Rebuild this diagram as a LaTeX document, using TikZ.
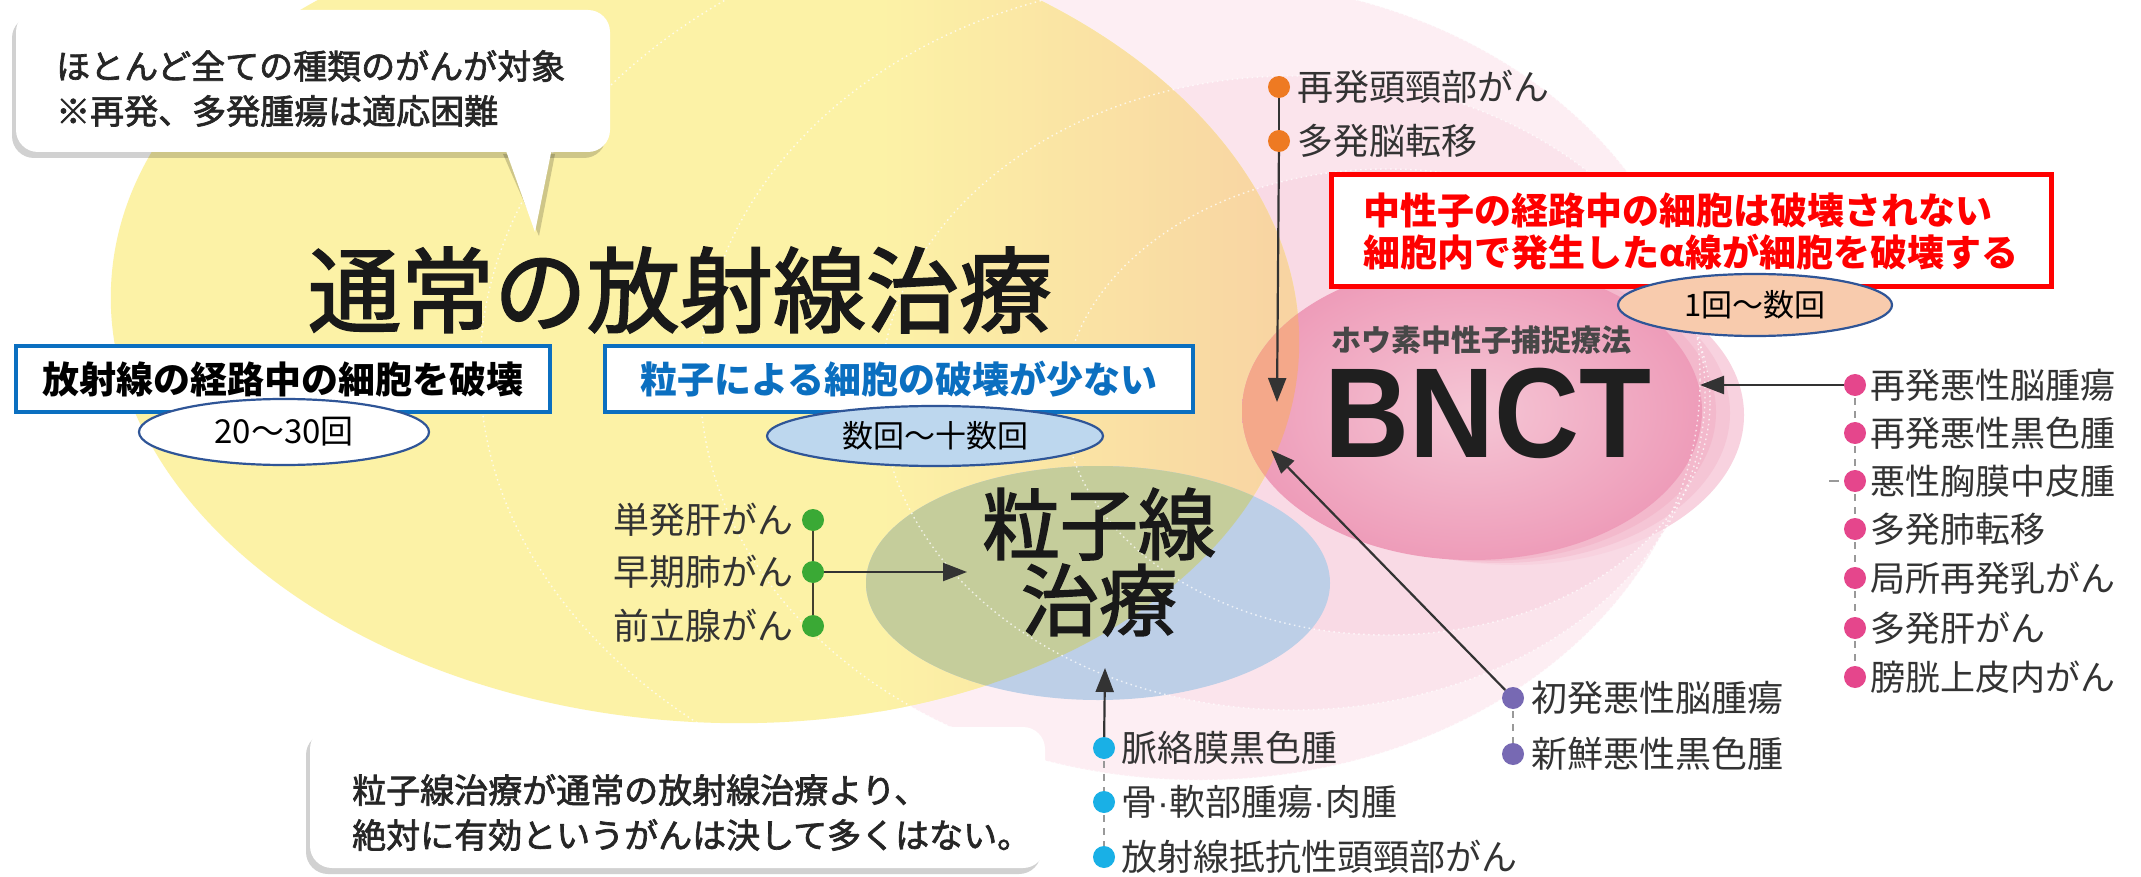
\documentclass[tikz,border=0pt]{standalone}
\usepackage{fontspec}
\usepackage{graphicx}
\setmainfont{Noto Sans CJK JP}
\newfontfamily\jpsemi{Noto Sans CJK JP}[FakeBold=2]
\newfontfamily\bnctfont{Liberation Sans}
\usetikzlibrary{arrows.meta,shapes.geometric}
\definecolor{ylw}{HTML}{FCF2A6}
\definecolor{peach}{HTML}{F8D2A2}
\definecolor{olivec}{HTML}{C5CD9B}
\definecolor{pblue}{HTML}{BDCFE7}
\definecolor{bncto}{HTML}{EE9CB9}
\definecolor{bncti}{HTML}{F5C6D5}
\definecolor{ovl}{HTML}{F4A88A}
\definecolor{ringa}{HTML}{FDEEF3}
\definecolor{ringb}{HTML}{FBE4EC}
\definecolor{ringc}{HTML}{F9DAE5}
\definecolor{bandA}{HTML}{F3B9CC}
\definecolor{bandB}{HTML}{F5C5D5}
\definecolor{bandC}{HTML}{F8D2DF}
\definecolor{boxblue}{HTML}{0B6FC0}
\definecolor{ellblue}{HTML}{2F5597}
\definecolor{lightblue}{HTML}{BDD7EE}
\definecolor{salmon}{HTML}{F8CBAD}
\definecolor{dotor}{HTML}{EE7A22}
\definecolor{dotpk}{HTML}{E5468C}
\definecolor{dotpu}{HTML}{7769B3}
\definecolor{dotcy}{HTML}{19B0E6}
\definecolor{dotgr}{HTML}{3AA935}
\definecolor{txt}{HTML}{333333}
\definecolor{redc}{HTML}{FF0000}
\begin{document}
\begin{tikzpicture}[x=1pt,y=1pt,
  item/.style={font=\fontsize{36}{40}\selectfont, text=txt, inner sep=0pt, anchor=west},
  itemr/.style={font=\fontsize{36}{40}\selectfont, text=txt, inner sep=0pt, anchor=east},
  dotn/.style={circle, inner sep=0pt, minimum size=22pt},
  conn/.style={draw=txt, line width=2pt},
  arr/.style={draw=txt, line width=2.2pt, -{Triangle[length=24pt,width=18pt]}},
  dashc/.style={draw=gray!80, line width=1.6pt, dash pattern=on 7pt off 6pt},
  bluebox/.style={draw=boxblue, line width=4.5pt, fill=white, minimum height=66pt, inner sep=0pt},
  oval/.style={ellipse, draw=ellblue, line width=2.2pt, inner sep=0pt, font=\fontsize{33}{34}\selectfont, text=black},
  ringline/.style={draw=white, opacity=.75, line width=1.4pt, dash pattern=on 1.5pt off 3.5pt},
  calltext/.style={font=\jpsemi\fontsize{34}{38}\selectfont, text=black!85, inner sep=0pt, anchor=west},
]
\useasboundingbox (0,0) rectangle (2141,-877);
\fill[white] (0,0) rectangle (2141,-877);

% background pink rings
\fill[ringa] (1200,-380) ellipse [x radius=500, y radius=400];
\fill[ringb] (1293,-393) ellipse [x radius=412, y radius=317];
\fill[ringc] (1387,-402) ellipse [x radius=323, y radius=233];

% yellow ellipse (conventional radiotherapy)
\fill[ylw, rotate around={-4:(705,-320)}] (705,-320) ellipse [x radius=595, y radius=402];
\begin{scope}
  \clip[rotate around={-4:(705,-320)}] (705,-320) ellipse [x radius=595, y radius=402];
  \shade[left color=ylw, right color=peach] (880,0) rectangle (1310,-877);
\end{scope}

% BNCT disc
\fill[bandC] (1514,-415) ellipse [x radius=230, y radius=150];
\fill[bandB] (1500,-413) ellipse [x radius=230, y radius=150];
\fill[bandA] (1486,-412) ellipse [x radius=230, y radius=149];
\shade[inner color=bncti, outer color=bncto] (1472,-411) ellipse [x radius=230, y radius=149];

% particle therapy ellipse
\fill[pblue] (1098,-583) ellipse [x radius=232, y radius=117];

% overlaps with yellow
\begin{scope}
  \clip[rotate around={-4:(705,-320)}] (705,-320) ellipse [x radius=595, y radius=402];
  \fill[olivec] (1098,-583) ellipse [x radius=232, y radius=117];
  \fill[ovl] (1472,-411) ellipse [x radius=230, y radius=149];
\end{scope}

% dotted ring outlines
\draw[ringline] (1200,-380) ellipse [x radius=500, y radius=400];
\draw[ringline] (1293,-393) ellipse [x radius=412, y radius=317];
\draw[ringline] (1387,-402) ellipse [x radius=323, y radius=233];
\draw[ringline] (1120,-370) ellipse [x radius=640, y radius=470];

% top-left callout
\fill[black, opacity=.18, rounded corners=22pt] (12,-16) rectangle (606,-158);
\fill[black, opacity=.18] (503,-154) -- (555,-154) -- (539,-236) -- cycle;
\fill[white, rounded corners=22pt] (16,-10) rectangle (610,-152);
\fill[white] (505,-148) -- (552,-148) -- (535,-232) -- cycle;
\node[calltext] (tc1) at (56,-66) {ほとんど全ての種類のがんが対象};
\node[calltext] (tc2) at (56,-111) {※再発、多発腫瘍は適応困難};

% bottom callout
\fill[black, opacity=.18, rounded corners=22pt] (306,-733) rectangle (1041,-874);
\fill[white, rounded corners=22pt] (310,-727) rectangle (1045,-868);
\fill[white] (1040,-797) -- (1080,-793) -- (1040,-820) -- cycle;
\node[calltext] (bc1) at (352,-790) {粒子線治療が通常の放射線治療より、};
\node[calltext] (bc2) at (352,-835) {絶対に有効というがんは決して多くはない。};

% main titles
\node[font=\jpsemi\fontsize{93}{96}\selectfont, text=black!90, inner sep=0pt] (title) at (680,-290) {通常の放射線治療};
\node[font=\jpsemi\fontsize{78}{82}\selectfont, text=black!90, inner sep=0pt, align=center] (ptitle) at (1099,-562) {粒子線\\[-6pt]治療};
\node[font=\fontsize{30}{32}\selectfont\bfseries, text=black!72, inner sep=0pt, anchor=west] (bnctjp) at (1331,-340) {ホウ素中性子捕捉療法};
\node[font=\bnctfont\bfseries\fontsize{128}{128}\selectfont, text=black!88, inner sep=0pt] (bnct) at (1488,-413) {\scalebox{0.92}[1]{BNCT}};

% blue boxes and ovals
\node[bluebox, minimum width=534pt, font=\fontsize{37}{40}\selectfont\bfseries, text=black] (box1) at (283,-379) {放射線の経路中の細胞を破壊};
\node[oval, fill=white, minimum width=290pt, minimum height=66pt] (ov1) at (284,-432) {20～30回};
\node[bluebox, minimum width=588pt, font=\fontsize{37}{40}\selectfont\bfseries, text=boxblue] (box2) at (899,-379) {粒子による細胞の破壊が少ない};
\node[oval, fill=lightblue, minimum width=336pt, minimum height=60pt, font=\fontsize{31}{34}\selectfont] (ov2) at (935,-436) {数回～十数回};

% red box
\node[draw=redc, line width=5pt, fill=white, minimum width=720pt, minimum height=112pt, align=left,
      font=\fontsize{37}{42}\selectfont\bfseries, text=redc, inner sep=0pt] (redbox) at (1691,-231)
      {中性子の経路中の細胞は破壊されない\\細胞内で発生したα線が細胞を破壊する};
\node[oval, fill=salmon, minimum width=274pt, minimum height=62pt, font=\fontsize{31}{34}\selectfont] (ov3) at (1755,-305) {1回～数回};

% ---------- orange items (top) ----------
\coordinate (o1) at (1279,-87);
\coordinate (o2) at (1279,-141);
\coordinate (downTip) at (1277,-402);
\draw[conn, line width=1.5pt] (o1) -- (o2);
\node[dotn, fill=dotor] (od1) at (o1) {};
\node[dotn, fill=dotor] (od2) at (o2) {};
\draw[arr] (od2) -- (downTip);
\node[item] (ot1) at (1297,-87) {再発頭頸部がん};
\node[item] (ot2) at (1297,-141) {多発脳転移};

% ---------- pink items (right) ----------
\foreach \i/\y in {1/385,2/433,3/481,4/529,5/578,6/628,7/677}{
  \coordinate (p\i) at (1855,-\y);
}
\foreach \a/\b in {1/2,2/3,3/4,4/5,5/6,6/7}{
  \draw[dashc] (p\a) -- (p\b);
}
\coordinate (pdashL) at (1829,-481);
\coordinate (pdashR) at (1839,-481);
\draw[gray!80, line width=1.6pt] (pdashL) -- (pdashR);
\foreach \i in {1,...,7}{
  \node[dotn, fill=dotpk] (pd\i) at (p\i) {};
}
\coordinate (pinkTip) at (1700,-385);
\draw[arr] (pd1) -- (pinkTip);
\node[item, font=\fontsize{35}{40}\selectfont] (pt1) at (1870,-385) {再発悪性脳腫瘍};
\node[item, font=\fontsize{35}{40}\selectfont] (pt2) at (1870,-433) {再発悪性黒色腫};
\node[item, font=\fontsize{35}{40}\selectfont] (pt3) at (1870,-481) {悪性胸膜中皮腫};
\node[item, font=\fontsize{35}{40}\selectfont] (pt4) at (1870,-529) {多発肺転移};
\node[item, font=\fontsize{35}{40}\selectfont] (pt5) at (1870,-578) {局所再発乳がん};
\node[item, font=\fontsize{35}{40}\selectfont] (pt6) at (1870,-628) {多発肝がん};
\node[item, font=\fontsize{35}{40}\selectfont] (pt7) at (1870,-677) {膀胱上皮内がん};

% ---------- purple items ----------
\coordinate (u1) at (1513,-698);
\coordinate (u2) at (1513,-754);
\coordinate (diagTip) at (1271,-450);
\draw[dashc] (u1) -- (u2);
\node[dotn, fill=dotpu] (ud1) at (u1) {};
\node[dotn, fill=dotpu] (ud2) at (u2) {};
\draw[arr] (ud1) -- (diagTip);
\node[item] (ut1) at (1531,-698) {初発悪性脳腫瘍};
\node[item] (ut2) at (1531,-754) {新鮮悪性黒色腫};

% ---------- cyan items ----------
\coordinate (c1) at (1104,-748);
\coordinate (c2) at (1104,-802);
\coordinate (c3) at (1104,-857);
\coordinate (upTip) at (1105,-668);
\draw[dashc] (c1) -- (c2);
\draw[dashc] (c2) -- (c3);
\node[dotn, fill=dotcy] (cd1) at (c1) {};
\node[dotn, fill=dotcy] (cd2) at (c2) {};
\node[dotn, fill=dotcy] (cd3) at (c3) {};
\draw[arr] (cd1) -- (upTip);
\node[item] (ct1) at (1121,-748) {脈絡膜黒色腫};
\node[item] (ct2) at (1121,-802) {骨{\bnctfont·}軟部腫瘍{\bnctfont·}肉腫};
\node[item] (ct3) at (1121,-857) {放射線抵抗性頭頸部がん};

% ---------- green items ----------
\coordinate (g1) at (813,-520);
\coordinate (g2) at (813,-572);
\coordinate (g3) at (813,-626);
\coordinate (greenTip) at (967,-572);
\draw[draw=black!70!olive, line width=2.5pt] (g1) -- (g3);
\node[dotn, fill=dotgr] (gd1) at (g1) {};
\node[dotn, fill=dotgr] (gd2) at (g2) {};
\node[dotn, fill=dotgr] (gd3) at (g3) {};
\draw[arr] (gd2) -- (greenTip);
\node[itemr] (gt1) at (794,-520) {単発肝がん};
\node[itemr] (gt2) at (794,-572) {早期肺がん};
\node[itemr] (gt3) at (794,-626) {前立腺がん};
\end{tikzpicture}
\end{document}
